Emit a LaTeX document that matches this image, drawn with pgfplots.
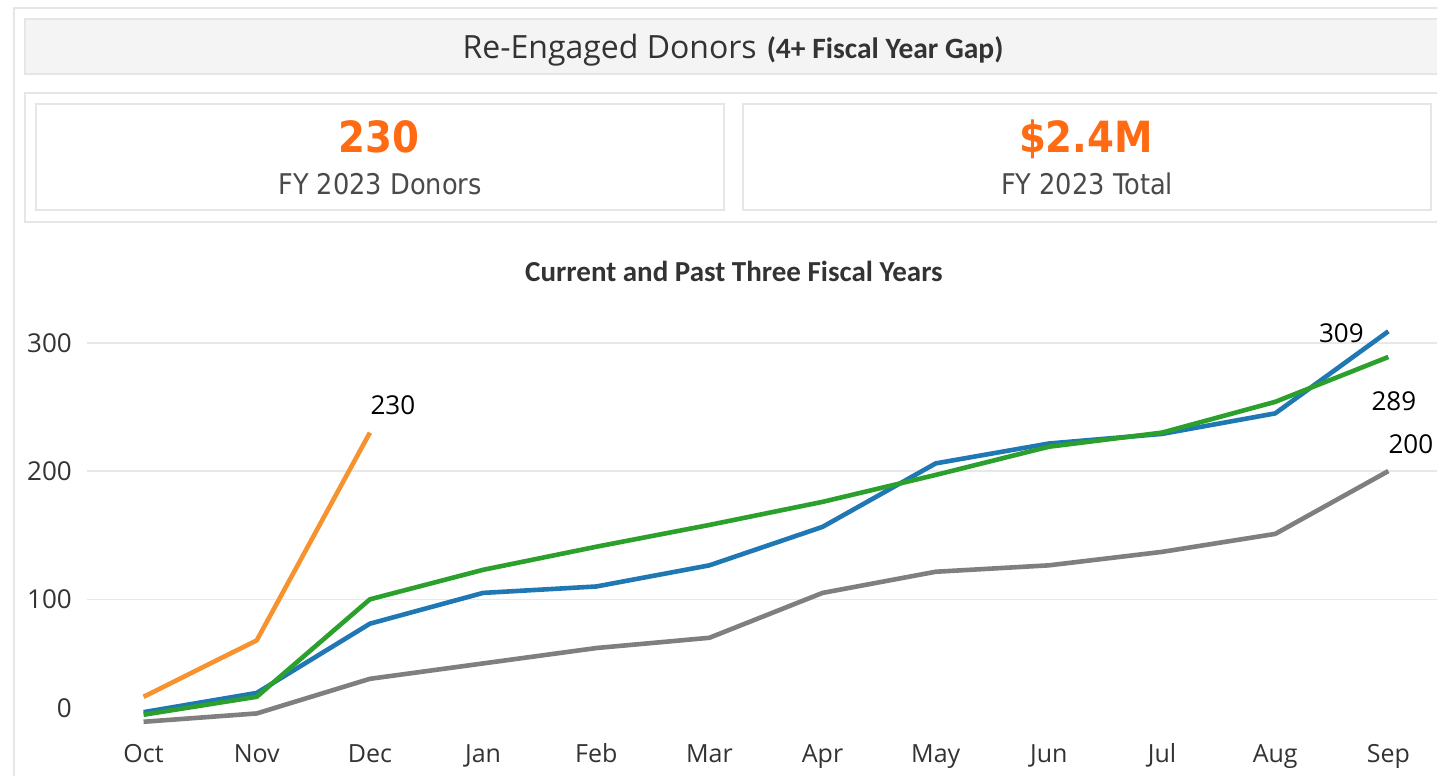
\documentclass[border=0pt]{standalone}
\usepackage{fontspec}
\setmainfont{Open Sans}
\newfontfamily\dejacond[FakeStretch=0.9]{DejaVu Sans}
\newfontfamily\carlito{Carlito}
\usepackage{pgfplots}
\pgfplotsset{compat=1.18}
\definecolor{cblue}{HTML}{1F77B4}
\definecolor{corange}{HTML}{F7932F}
\definecolor{cgreen}{HTML}{2CA02C}
\definecolor{cgrey}{HTML}{7F7F7F}
\definecolor{kpiorange}{HTML}{FF6A13}
\definecolor{bordergrey}{HTML}{E6E6E6}
\definecolor{barfill}{HTML}{F4F4F4}
\definecolor{gridgrey}{HTML}{E8E8E8}
\definecolor{txt}{HTML}{333333}
\definecolor{subtxt}{HTML}{4A4A4A}
\begin{document}
\begin{tikzpicture}[x=1pt,y=-1pt]
\useasboundingbox[fill=white] (0,0) rectangle (1437,776);
% dashboard frames
\draw[bordergrey, line width=2pt] (14,790) -- (14,8) -- (1450,8);
\filldraw[fill=barfill, draw=bordergrey, line width=2pt] (25,19) rectangle (1450,74);
\draw[bordergrey, line width=2pt] (1450,93) -- (25,93) -- (25,222) -- (1450,222);
\draw[bordergrey, line width=2pt] (36,104) rectangle (724,210);
\draw[bordergrey, line width=2pt] (743,104) rectangle (1431,210);
% titles
\node[anchor=base, inner sep=0pt, text=txt] at (733,59)
  {\fontsize{32}{36}\selectfont Re-Engaged Donors\hspace{10pt}{\carlito\bfseries\fontsize{29.5}{32}\selectfont (4+ Fiscal Year Gap)}};
\node[anchor=base, inner sep=0pt, text=kpiorange] at (379,152)
  {\dejacond\bfseries\fontsize{43}{46}\selectfont 230};
\node[anchor=base, inner sep=0pt, text=subtxt] at (380,194)
  {\dejacond\fontsize{28.5}{32}\selectfont FY 2023 Donors};
\node[anchor=base, inner sep=0pt, text=kpiorange] at (1086,152)
  {\dejacond\bfseries\fontsize{43}{46}\selectfont \$2.4M};
\node[anchor=base, inner sep=0pt, text=subtxt] at (1087,194)
  {\dejacond\fontsize{28.5}{32}\selectfont FY 2023 Total};
\node[anchor=base, inner sep=0pt, text=txt] at (734,281)
  {\carlito\bfseries\fontsize{29}{32}\selectfont Current and Past Three Fiscal Years};
\begin{axis}[
  at={(87pt,-737.8pt)}, anchor=south west, scale only axis,
  width=1350pt, height=427pt,
  xmin=-0.5, xmax=11.43, ymin=-8, ymax=325,
  clip=false,
  axis line style={draw=none}, tick style={draw=none},
  xtick={0,...,11},
  xticklabels={Oct,Nov,Dec,Jan,Feb,Mar,Apr,May,Jun,Jul,Aug,Sep},
  ytick={100,200,300},
  extra y ticks={0},
  extra y tick style={grid=none, yticklabel style={yshift=19.5pt}},
  ymajorgrids, major grid style={draw=gridgrey, line width=1.5pt},
  /pgf/number format/assume math mode=true,
  xticklabel style={anchor=base, yshift=-24.8pt, font=\fontsize{25}{28}\selectfont, text=txt},
  yticklabel style={anchor=east, inner sep=0pt, xshift=-15pt, font=\fontsize{26}{30}\selectfont, text=txt},
]
\addplot[cgrey, line width=4.6pt, line join=round] coordinates {
 (0,4.5) (1,11) (2,38) (3,50) (4,62) (5,70) (6,105) (7,121.5) (8,126.5) (9,137) (10,151) (11,200)};
\addplot[cblue, line width=4.6pt, line join=round] coordinates {
 (0,12) (1,27) (2,81) (3,105) (4,110) (5,126.5) (6,156.5) (7,206) (8,221.5) (9,229) (10,245) (11,309)};
\addplot[cgreen, line width=4.6pt, line join=round] coordinates {
 (0,10) (1,24) (2,100) (3,123) (4,141) (5,158) (6,176) (7,197) (8,219) (9,230) (10,254) (11,289)};
\addplot[corange, line width=4.6pt, line join=round] coordinates {
 (0,24) (1,68) (2,230)};
\node[text=black, font=\fontsize{26}{30}\selectfont, xshift=23pt, yshift=27pt] at (axis cs:2,230) {230};
\node[text=black, font=\fontsize{26}{30}\selectfont, xshift=-47pt, yshift=-2pt] at (axis cs:11,309) {309};
\node[text=black, font=\fontsize{26}{30}\selectfont, xshift=5.5pt, yshift=-44pt] at (axis cs:11,289) {289};
\node[text=black, font=\fontsize{26}{30}\selectfont, xshift=22.5pt, yshift=27pt] at (axis cs:11,200) {200};
\end{axis}
\end{tikzpicture}
\end{document}
